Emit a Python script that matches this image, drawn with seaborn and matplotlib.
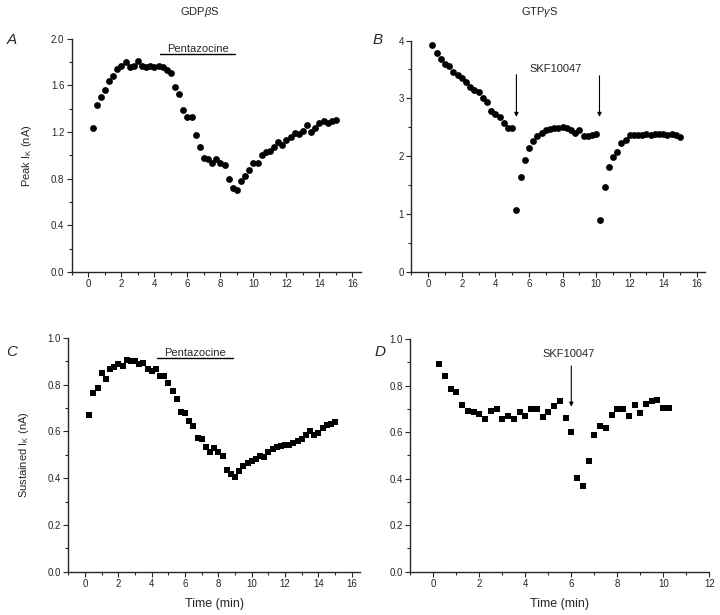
import matplotlib
matplotlib.use('Agg')
import matplotlib.pyplot as plt
import seaborn as sns
import pandas as pd
from matplotlib.ticker import MultipleLocator

# panel A - peak IK, GDPbS, pentazocine
t_a = [0.25, 0.5, 0.75, 1.0, 1.25, 1.5, 1.75, 2.0, 2.25, 2.5, 2.75, 3.0, 3.25, 3.5, 3.75,
       4.0, 4.25, 4.5, 4.75, 5.0, 5.25, 5.5, 5.75, 6.0, 6.25, 6.5, 6.75, 7.0, 7.25, 7.5,
       7.75, 8.0, 8.25, 8.5, 8.75, 9.0, 9.25, 9.5, 9.75, 10.0, 10.25, 10.5, 10.75, 11.0,
       11.25, 11.5, 11.75, 12.0, 12.25, 12.5, 12.75, 13.0, 13.25, 13.5, 13.75, 14.0,
       14.25, 14.5, 14.75, 15.0]
peak_a = [1.23, 1.43, 1.50, 1.56, 1.64, 1.68, 1.74, 1.77, 1.80, 1.76, 1.77, 1.81, 1.77, 1.76,
          1.77, 1.76, 1.77, 1.76, 1.73, 1.71, 1.59, 1.53, 1.39, 1.33, 1.33, 1.17, 1.07, 0.98,
          0.97, 0.93, 0.97, 0.93, 0.92, 0.80, 0.72, 0.70, 0.78, 0.82, 0.87, 0.93, 0.93, 1.00,
          1.03, 1.04, 1.07, 1.11, 1.09, 1.13, 1.16, 1.19, 1.18, 1.21, 1.26, 1.20, 1.23, 1.28,
          1.29, 1.28, 1.29, 1.30]

# panel B - peak IK, GTPgS, SKF10047
t_b = [0.25, 0.5, 0.75, 1.0, 1.25, 1.5, 1.75, 2.0, 2.25, 2.5, 2.75, 3.0, 3.25, 3.5, 3.75,
       4.0, 4.25, 4.5, 4.75, 5.0, 5.25, 5.5, 5.75, 6.0, 6.25, 6.5, 6.75, 7.0, 7.25, 7.5,
       7.75, 8.0, 8.25, 8.5, 8.75, 9.0, 9.25, 9.5, 9.75, 10.0, 10.25, 10.5, 10.75, 11.0,
       11.25, 11.5, 11.75, 12.0, 12.25, 12.5, 12.75, 13.0, 13.25, 13.5, 13.75, 14.0,
       14.25, 14.5, 14.75, 15.0]
peak_b = [3.92, 3.79, 3.69, 3.60, 3.56, 3.45, 3.41, 3.35, 3.29, 3.19, 3.15, 3.11, 3.00, 2.94,
          2.78, 2.73, 2.67, 2.58, 2.49, 2.49, 1.07, 1.64, 1.93, 2.15, 2.27, 2.35, 2.40, 2.45,
          2.47, 2.49, 2.48, 2.50, 2.48, 2.45, 2.40, 2.46, 2.35, 2.35, 2.36, 2.38, 0.89, 1.46,
          1.82, 1.99, 2.08, 2.22, 2.28, 2.37, 2.36, 2.37, 2.37, 2.38, 2.37, 2.38, 2.39, 2.38,
          2.36, 2.39, 2.36, 2.33]

# panel C - sustained IK, GDPbS, pentazocine
t_c = t_a
sus_c = [0.672, 0.766, 0.786, 0.849, 0.823, 0.866, 0.875, 0.887, 0.879, 0.905, 0.900, 0.902,
         0.890, 0.895, 0.869, 0.860, 0.869, 0.839, 0.838, 0.808, 0.774, 0.741, 0.684, 0.677,
         0.644, 0.624, 0.570, 0.566, 0.534, 0.513, 0.530, 0.513, 0.497, 0.436, 0.417, 0.405,
         0.429, 0.453, 0.467, 0.472, 0.481, 0.497, 0.489, 0.511, 0.524, 0.533, 0.537, 0.541,
         0.543, 0.551, 0.561, 0.568, 0.584, 0.604, 0.587, 0.594, 0.615, 0.627, 0.634, 0.641]

# panel D - sustained IK, GTPgS, SKF10047
t_d = [0.25, 0.5, 0.75, 1.0, 1.25, 1.5, 1.75, 2.0, 2.25, 2.5, 2.75, 3.0, 3.25, 3.5, 3.75,
       4.0, 4.25, 4.5, 4.75, 5.0, 5.25, 5.5, 5.75, 6.0, 6.25, 6.5, 6.75, 7.0, 7.25, 7.5,
       7.75, 8.0, 8.25, 8.5, 8.75, 9.0, 9.25, 9.5, 9.75, 10.0, 10.25]
sus_d = [0.893, 0.840, 0.784, 0.775, 0.716, 0.691, 0.688, 0.679, 0.655, 0.693, 0.698, 0.655,
         0.669, 0.659, 0.686, 0.670, 0.698, 0.698, 0.666, 0.686, 0.712, 0.736, 0.663, 0.599,
         0.405, 0.368, 0.475, 0.589, 0.626, 0.619, 0.672, 0.698, 0.698, 0.668, 0.719, 0.683,
         0.722, 0.733, 0.739, 0.706, 0.706]

# drug bars (start, end, y) and arrows (x, y_from, y_to)
pent_a = (4.35, 8.9, 1.87)
pent_c = (4.3, 8.85, 0.915)
skf_b = [(5.25, 3.41, 2.68), (10.2, 3.39, 2.68)]
skf_d = [(6.0, 0.885, 0.71)]

sns.set_style('ticks')
plt.rcParams['font.family'] = ['Liberation Sans', 'DejaVu Sans']
plt.rcParams['mathtext.fontset'] = 'custom'
plt.rcParams['mathtext.rm'] = 'Liberation Sans'
plt.rcParams['mathtext.it'] = 'Liberation Sans:italic'
plt.rcParams['axes.linewidth'] = 1.0

fig = plt.figure(figsize=(7.2, 6.15), dpi=100)
ax_a = fig.add_axes([0.100, 0.558, 0.401, 0.379])
ax_b = fig.add_axes([0.5715, 0.558, 0.408, 0.376])
ax_c = fig.add_axes([0.095, 0.0704, 0.405, 0.380])
ax_d = fig.add_axes([0.570, 0.0704, 0.415, 0.378])

sns.scatterplot(x=t_a, y=peak_a, ax=ax_a, color='black', marker='o', s=24, linewidth=0)
sns.scatterplot(x=t_b, y=peak_b, ax=ax_b, color='black', marker='o', s=24, linewidth=0)
sns.scatterplot(x=t_c, y=sus_c, ax=ax_c, color='black', marker='s', s=17, linewidth=0)
sns.scatterplot(x=t_d, y=sus_d, ax=ax_d, color='black', marker='s', s=17, linewidth=0)

def style(ax, xlim, xmaj, ylim, ymaj, ymin):
    ax.set_xlim(*xlim)
    ax.set_ylim(*ylim)
    ax.xaxis.set_major_locator(MultipleLocator(xmaj))
    ax.xaxis.set_minor_locator(MultipleLocator(xmaj / 2))
    ax.yaxis.set_major_locator(MultipleLocator(ymaj))
    ax.yaxis.set_minor_locator(MultipleLocator(ymin))
    ax.tick_params(which='major', direction='out', length=3.5, width=0.8, labelsize=7, pad=2)
    ax.tick_params(which='minor', direction='out', length=2, width=0.8)
    sns.despine(ax=ax)

style(ax_a, (-1, 16.5), 2, (0, 2.0), 0.4, 0.2)
style(ax_b, (-1, 16.5), 2, (0, 4.0), 1, 0.5)
style(ax_c, (-1, 16.5), 2, (0, 1.0), 0.2, 0.1)
style(ax_d, (-1, 12), 2, (0, 1.0), 0.2, 0.1)

ax_a.yaxis.set_major_formatter(matplotlib.ticker.FormatStrFormatter('%.1f'))
ax_c.yaxis.set_major_formatter(matplotlib.ticker.FormatStrFormatter('%.1f'))
ax_d.yaxis.set_major_formatter(matplotlib.ticker.FormatStrFormatter('%.1f'))

# pentazocine bars
for ax, (x0, x1, y) in [(ax_a, pent_a), (ax_c, pent_c)]:
    ax.plot([x0, x1], [y, y], color='black', lw=1.0)
    ax.text((x0 + x1) / 2, y, 'Pentazocine', ha='center', va='bottom', fontsize=8)

# SKF10047 arrows
for ax, arrows in [(ax_b, skf_b), (ax_d, skf_d)]:
    for x, y0, y1 in arrows:
        ax.annotate('', xy=(x, y1), xytext=(x, y0),
                    arrowprops=dict(arrowstyle='-|>', lw=0.8, color='black',
                                    mutation_scale=6, shrinkA=0, shrinkB=0))
ax_b.text(7.6, 3.42, 'SKF10047', ha='center', va='bottom', fontsize=8)
ax_d.text(5.9, 0.915, 'SKF10047', ha='center', va='bottom', fontsize=8)

ax_a.set_ylabel(r'Peak I$_\mathrm{K}$ (nA)', fontsize=8, labelpad=12)
ax_c.set_ylabel(r'Sustained I$_\mathrm{K}$ (nA)', fontsize=8, labelpad=12)
ax_c.set_xlabel('Time (min)', fontsize=9, labelpad=6)
ax_d.set_xlabel('Time (min)', fontsize=9, labelpad=6)

fig.text(200 / 720, 1 - 12 / 615, r'GDP$\beta$S', ha='center', va='center', fontsize=8)
fig.text(540 / 720, 1 - 12 / 615, r'GTP$\gamma$S', ha='center', va='center', fontsize=8)
for letter, x, y in [('A', 12, 40), ('B', 378, 40), ('C', 12, 352), ('D', 380, 352)]:
    fig.text(x / 720, 1 - y / 615, letter, ha='center', va='center', fontsize=11,
             style='italic')

fig.savefig('out.png', dpi=100)
